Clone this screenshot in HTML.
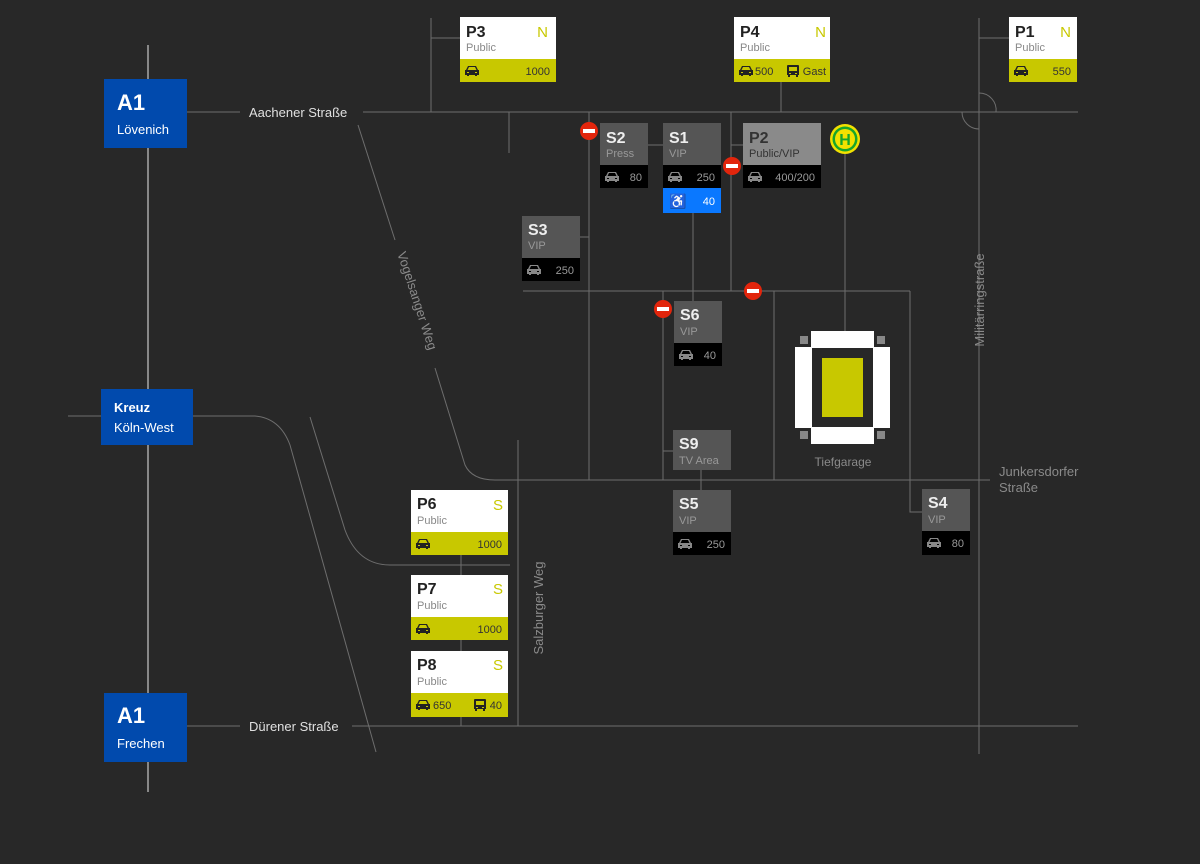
<!DOCTYPE html>
<html><head><meta charset="utf-8"><style>
body{margin:0;background:#282828;width:1200px;height:864px;overflow:hidden}
svg{display:block;font-family:"Liberation Sans",sans-serif}
.l{stroke:#6e6e6e;stroke-width:1;fill:none}
.t{font-weight:bold;font-size:16px}
.s{font-size:11px}
.n{font-size:11px}
</style></head><body>
<svg width="1200" height="864" viewBox="0 0 1200 864">
<defs>
<g id="car"><path d="M-6,-1 L-4,-5 L4,-5 L6,-1 L7,-1 L7,4 L5,4 L5,5 L3,5 L3,4 L-3,4 L-3,5 L-5,5 L-5,4 L-7,4 L-7,-1 Z M-3,-4 L-4.5,-1 L4.5,-1 L3,-4 Z M-5,1 h2 v1 h-2z M3,1 h2 v1 h-2z" fill-rule="evenodd"/></g>
<g id="bus"><path d="M-5,-6 h10 a1,1 0 0 1 1,1 v9 h-1 v2 h-2 v-2 h-6 v2 h-2 v-2 h-1 v-9 a1,1 0 0 1 1,-1z M-4,-4 v4 h8 v-4z M-4,2 h2 v1 h-2z M2,2 h2 v1 h-2z" fill-rule="evenodd"/></g>
<g id="ne"><circle r="9" fill="#e2250c"/><rect x="-6" y="-2" width="12" height="4" fill="#fff"/></g>
</defs>
<!-- roads -->
<g class="l">
<line x1="148" y1="45" x2="148" y2="792" style="stroke:#e8e8e8"/>
<line x1="187" y1="112" x2="240" y2="112"/>
<line x1="363" y1="112" x2="1078" y2="112"/>
<line x1="187" y1="726" x2="240" y2="726"/>
<line x1="352" y1="726" x2="1078" y2="726"/>
<line x1="68" y1="416" x2="101" y2="416"/>
<path d="M193,416 L255,416 Q280,418 290,445 L376,752"/>
<path d="M310,417 L345,530 Q358,565 390,565 L510,565"/>
<line x1="358" y1="125" x2="395" y2="240"/>
<path d="M435,368 L465,465 Q472,480 495,480 L990,480"/>
<line x1="431" y1="18" x2="431" y2="112"/><line x1="431" y1="38" x2="461" y2="38"/>
<line x1="509" y1="112" x2="509" y2="153"/>
<line x1="781" y1="82" x2="781" y2="112"/>
<line x1="979" y1="18" x2="979" y2="754"/><line x1="979" y1="38" x2="1009" y2="38"/>
<path d="M979,93 A17,17 0 0 1 996,112"/><path d="M962,112 A17,17 0 0 0 979,129"/>
<line x1="589" y1="112" x2="589" y2="480"/>
<line x1="580" y1="237" x2="589" y2="237"/>
<line x1="648" y1="145" x2="663" y2="145"/>
<line x1="731" y1="112" x2="731" y2="291"/>
<line x1="731" y1="145" x2="743" y2="145"/>
<line x1="845" y1="150" x2="845" y2="331"/>
<line x1="693" y1="213" x2="693" y2="301"/>
<line x1="523" y1="291" x2="910" y2="291"/>
<line x1="663" y1="291" x2="663" y2="480"/>
<line x1="663" y1="451" x2="673" y2="451"/>
<line x1="774" y1="291" x2="774" y2="480"/>
<path d="M910,291 L910,512 L922,512"/>
<line x1="701" y1="470" x2="701" y2="490"/>
<line x1="518" y1="440" x2="518" y2="726"/>
<line x1="461" y1="555" x2="461" y2="575"/>
<line x1="461" y1="640" x2="461" y2="651"/>
<line x1="461" y1="717" x2="461" y2="726"/>
</g>
<!-- road labels -->
<g fill="#e0e0e0" font-size="13">
<text x="249" y="117">Aachener Straße</text>
<text x="249" y="731">Dürener Straße</text>
</g>
<g fill="#8a8a8a" font-size="13">
<text transform="translate(413,302) rotate(72)" text-anchor="middle">Vogelsanger Weg</text>
<text transform="translate(984,300) rotate(-90)" text-anchor="middle">Militärringstraße</text>
<text transform="translate(543,608) rotate(-90)" text-anchor="middle">Salzburger Weg</text>
<text x="999" y="476">Junkersdorfer</text><text x="999" y="492">Straße</text>
<text x="843" y="466" text-anchor="middle" font-size="12">Tiefgarage</text>
</g>
<!-- A1 boxes -->
<rect x="104" y="79" width="83" height="69" fill="#014aad"/>
<text x="117" y="110" fill="#fff" font-weight="bold" font-size="22">A1</text>
<text x="117" y="134" fill="#fff" font-size="13">Lövenich</text>
<rect x="101" y="389" width="92" height="56" fill="#014aad"/>
<text x="114" y="412" fill="#fff" font-weight="bold" font-size="13">Kreuz</text>
<text x="114" y="432" fill="#fff" font-size="13">Köln-West</text>
<rect x="104" y="693" width="83" height="69" fill="#014aad"/>
<text x="117" y="723" fill="#fff" font-weight="bold" font-size="22">A1</text>
<text x="117" y="748" fill="#fff" font-size="13">Frechen</text>
<!-- P boxes (white/yellow) -->
<g>
<rect x="460" y="17" width="96" height="42" fill="#fff"/><rect x="460" y="59" width="96" height="23" fill="#c8c800"/>
<text x="466" y="37" class="t" fill="#222">P3</text><text x="548" y="37" font-size="15" fill="#c8c800" text-anchor="end">N</text>
<text x="466" y="51" class="s" fill="#888">Public</text>
<use href="#car" x="472" y="71" fill="#222"/><text x="550" y="75" class="n" fill="#333" text-anchor="end">1000</text>

<rect x="734" y="17" width="96" height="42" fill="#fff"/><rect x="734" y="59" width="96" height="23" fill="#c8c800"/>
<text x="740" y="37" class="t" fill="#222">P4</text><text x="826" y="37" font-size="15" fill="#c8c800" text-anchor="end">N</text>
<text x="740" y="51" class="s" fill="#888">Public</text>
<use href="#car" x="746" y="71" fill="#222"/><text x="755" y="75" class="n" fill="#333">500</text>
<use href="#bus" x="793" y="71" fill="#222"/><text x="826" y="75" class="n" fill="#333" text-anchor="end">Gast</text>

<rect x="1009" y="17" width="68" height="42" fill="#fff"/><rect x="1009" y="59" width="68" height="23" fill="#c8c800"/>
<text x="1015" y="37" class="t" fill="#222">P1</text><text x="1071" y="37" font-size="15" fill="#c8c800" text-anchor="end">N</text>
<text x="1015" y="51" class="s" fill="#888">Public</text>
<use href="#car" x="1021" y="71" fill="#222"/><text x="1071" y="75" class="n" fill="#333" text-anchor="end">550</text>

<rect x="411" y="490" width="97" height="42" fill="#fff"/><rect x="411" y="532" width="97" height="23" fill="#c8c800"/>
<text x="417" y="509" class="t" fill="#222">P6</text><text x="503" y="510" font-size="15" fill="#c8c800" text-anchor="end">S</text>
<text x="417" y="524" class="s" fill="#888">Public</text>
<use href="#car" x="423" y="544" fill="#222"/><text x="502" y="548" class="n" fill="#333" text-anchor="end">1000</text>

<rect x="411" y="575" width="97" height="42" fill="#fff"/><rect x="411" y="617" width="97" height="23" fill="#c8c800"/>
<text x="417" y="594" class="t" fill="#222">P7</text><text x="503" y="594" font-size="15" fill="#c8c800" text-anchor="end">S</text>
<text x="417" y="609" class="s" fill="#888">Public</text>
<use href="#car" x="423" y="629" fill="#222"/><text x="502" y="633" class="n" fill="#333" text-anchor="end">1000</text>

<rect x="411" y="651" width="97" height="42" fill="#fff"/><rect x="411" y="693" width="97" height="24" fill="#c8c800"/>
<text x="417" y="670" class="t" fill="#222">P8</text><text x="503" y="670" font-size="15" fill="#c8c800" text-anchor="end">S</text>
<text x="417" y="685" class="s" fill="#888">Public</text>
<use href="#car" x="423" y="705" fill="#222"/><text x="433" y="709" class="n" fill="#333">650</text>
<use href="#bus" x="480" y="705" fill="#222"/><text x="502" y="709" class="n" fill="#333" text-anchor="end">40</text>
</g>
<!-- S boxes -->
<g>
<rect x="600" y="123" width="48" height="42" fill="#555"/><rect x="600" y="165" width="48" height="23" fill="#000"/>
<text x="606" y="143" class="t" fill="#eee">S2</text><text x="606" y="157" class="s" fill="#999">Press</text>
<use href="#car" x="612" y="177" fill="#888"/><text x="642" y="181" class="n" fill="#999" text-anchor="end">80</text>

<rect x="663" y="123" width="58" height="42" fill="#555"/><rect x="663" y="165" width="58" height="23" fill="#000"/><rect x="663" y="188" width="58" height="25" fill="#0a78ff"/>
<text x="669" y="143" class="t" fill="#eee">S1</text><text x="669" y="157" class="s" fill="#999">VIP</text>
<use href="#car" x="675" y="177" fill="#888"/><text x="715" y="181" class="n" fill="#999" text-anchor="end">250</text>
<text x="669" y="206" font-size="14" fill="#fff">♿</text><text x="715" y="205" class="n" fill="#fff" text-anchor="end">40</text>

<rect x="743" y="123" width="78" height="42" fill="#8a8a8a"/><rect x="743" y="165" width="78" height="23" fill="#000"/>
<text x="749" y="143" class="t" fill="#333">P2</text><text x="749" y="157" class="s" fill="#333">Public/VIP</text>
<use href="#car" x="755" y="177" fill="#888"/><text x="815" y="181" class="n" fill="#999" text-anchor="end">400/200</text>

<rect x="522" y="216" width="58" height="42" fill="#555"/><rect x="522" y="258" width="58" height="23" fill="#000"/>
<text x="528" y="235" class="t" fill="#eee">S3</text><text x="528" y="249" class="s" fill="#999">VIP</text>
<use href="#car" x="534" y="270" fill="#888"/><text x="574" y="274" class="n" fill="#999" text-anchor="end">250</text>

<rect x="674" y="301" width="48" height="42" fill="#555"/><rect x="674" y="343" width="48" height="23" fill="#000"/>
<text x="680" y="320" class="t" fill="#eee">S6</text><text x="680" y="335" class="s" fill="#999">VIP</text>
<use href="#car" x="686" y="355" fill="#888"/><text x="716" y="359" class="n" fill="#999" text-anchor="end">40</text>

<rect x="673" y="430" width="58" height="40" fill="#555"/>
<text x="679" y="449" class="t" fill="#eee">S9</text><text x="679" y="464" class="s" fill="#999">TV Area</text>

<rect x="673" y="490" width="58" height="42" fill="#555"/><rect x="673" y="532" width="58" height="23" fill="#000"/>
<text x="679" y="509" class="t" fill="#eee">S5</text><text x="679" y="524" class="s" fill="#999">VIP</text>
<use href="#car" x="685" y="544" fill="#888"/><text x="725" y="548" class="n" fill="#999" text-anchor="end">250</text>

<rect x="922" y="489" width="48" height="42" fill="#555"/><rect x="922" y="531" width="48" height="24" fill="#000"/>
<text x="928" y="508" class="t" fill="#eee">S4</text><text x="928" y="523" class="s" fill="#999">VIP</text>
<use href="#car" x="934" y="543" fill="#888"/><text x="964" y="547" class="n" fill="#999" text-anchor="end">80</text>
</g>
<!-- stadium -->
<rect x="811" y="331" width="63" height="17" fill="#fff"/>
<rect x="811" y="427" width="63" height="17" fill="#fff"/>
<rect x="795" y="347" width="17" height="81" fill="#fff"/>
<rect x="873" y="347" width="17" height="81" fill="#fff"/>
<rect x="822" y="358" width="41" height="59" fill="#c8c800"/>
<g fill="#888"><rect x="800" y="336" width="8" height="8"/><rect x="877" y="336" width="8" height="8"/><rect x="800" y="431" width="8" height="8"/><rect x="877" y="431" width="8" height="8"/></g>
<!-- signs -->
<use href="#ne" x="589" y="131"/><use href="#ne" x="732" y="166"/><use href="#ne" x="753" y="291"/><use href="#ne" x="663" y="309"/>
<circle cx="845" cy="139" r="15" fill="#f2e100"/><circle cx="845" cy="139" r="12.5" fill="#17a52a"/><circle cx="845" cy="139" r="10" fill="#f2e100"/>
<text x="845" y="145" text-anchor="middle" font-weight="bold" font-size="16" fill="#17a52a">H</text>
</svg>
</body></html>
